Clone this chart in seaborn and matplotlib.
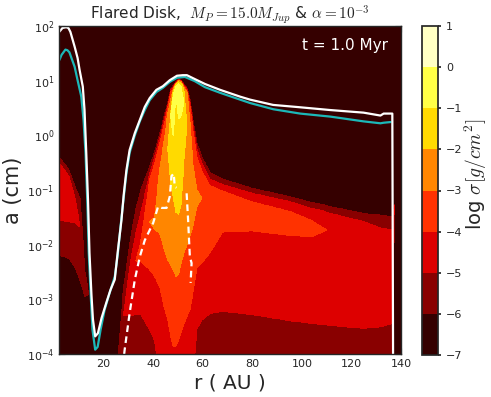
import numpy as np
import matplotlib
matplotlib.use("Agg")
import matplotlib.pyplot as plt
import seaborn as sns

# ---------------- data ----------------
# Contour field: one vertical profile per radius column (r in AU).
# Each profile: band at the top, then (log10 a boundary, band below it), top -> bottom.
# Band k covers log sigma in [k-7, k-6]  (0 = darkest, 7 = lightest).
# Two equal boundaries mark the point where a band closes.
col_r = [2, 6, 8.5, 10.5, 12.5, 14, 25, 26.5, 28, 31, 33, 35, 38.6, 40.6, 42.7,
         44.7, 45.9, 47.1, 48.1, 49.1, 50.2, 51.2, 52.4, 53.6, 54.8, 56.0, 57.6,
         59.7, 62.9, 68, 80, 95, 104, 108.8, 110, 125, 132, 136.5, 137.3, 140]
col_profiles = [
    [0, (-0.39, 1), (-0.50, 2), (-1.55, 1), (-2.19, 0)],
    [0, (-0.63, 1), (-0.75, 2), (-1.58, 1), (-2.25, 0)],
    [0, (-0.94, 1), (-1.15, 2), (-1.60, 1), (-2.42, 0)],
    [0, (-1.15, 1), (-1.68, 2), (-1.68, 1), (-2.65, 0)],
    [0, (-2.50, 1), (-2.95, 0)],
    [0, (-2.90, 1), (-2.90, 0)],
    [0, (-4.50, 1)],
    [0, (-3.70, 1)],
    [0, (-2.81, 1), (-3.30, 2), (-3.30, 1)],
    [0, (-1.85, 1), (-2.27, 2), (-3.30, 1)],
    [0, (-1.36, 1), (-1.80, 2), (-2.30, 3), (-2.30, 2), (-3.27, 1)],
    [0, (-1.00, 1), (-1.42, 2), (-1.95, 3), (-2.30, 2), (-3.27, 1)],
    [0, (-0.57, 1), (-0.69, 2), (-0.82, 3), (-1.58, 4), (-1.58, 3), (-2.46, 2), (-3.56, 1)],
    [0, (-0.30, 1), (-0.40, 2), (-0.52, 3), (-1.50, 4), (-1.72, 3), (-2.58, 2), (-3.76, 1)],
    [0, (0.04, 1), (-0.04, 2), (-0.14, 3), (-0.60, 4), (-1.80, 3), (-2.78, 2)],
    [0, (0.40, 1), (0.33, 2), (0.25, 3), (-0.02, 4), (-2.12, 3), (-3.19, 2)],
    [0, (0.60, 1), (0.55, 2), (0.50, 3), (0.40, 4), (-0.25, 5), (-0.25, 4), (-2.28, 3), (-3.37, 2)],
    [0, (0.86, 1), (0.83, 2), (0.79, 3), (0.65, 4), (0.41, 5), (0.35, 6), (0.35, 5), (-0.90, 4), (-2.37, 3), (-3.68, 2)],
    [0, (0.91, 1), (0.89, 2), (0.87, 3), (0.85, 4), (0.82, 5), (0.74, 6), (-0.03, 5), (-1.13, 4), (-2.46, 3), (-3.86, 2)],
    [0, (0.98, 1), (0.965, 2), (0.95, 3), (0.935, 4), (0.92, 5), (0.88, 6), (0.80, 5), (-1.40, 4), (-2.58, 3), (-3.86, 2)],
    [0, (1.03, 1), (1.02, 2), (1.01, 3), (1.00, 4), (0.98, 5), (0.95, 6), (0.30, 5), (-1.45, 4), (-2.55, 3), (-3.75, 2)],
    [0, (1.01, 1), (1.00, 2), (0.99, 3), (0.98, 4), (0.96, 5), (0.90, 6), (0.35, 5), (-1.30, 4), (-2.35, 3), (-3.62, 2)],
    [0, (0.94, 1), (0.92, 2), (0.90, 3), (0.88, 4), (0.85, 5), (0.60, 6), (0.60, 5), (-0.49, 4), (-2.15, 3), (-3.45, 2)],
    [0, (0.87, 1), (0.85, 2), (0.82, 3), (0.79, 4), (0.20, 5), (0.20, 4), (-2.00, 3), (-3.31, 2)],
    [0, (0.68, 1), (0.62, 2), (0.55, 3), (0.28, 4), (-1.84, 3), (-3.20, 2)],
    [0, (0.30, 1), (0.22, 2), (0.12, 3), (-0.52, 4), (-1.67, 3), (-2.90, 2)],
    [0, (-0.13, 1), (-0.25, 2), (-0.40, 3), (-1.00, 4), (-1.30, 3), (-2.42, 2), (-3.54, 1)],
    [0, (-0.40, 1), (-0.52, 2), (-0.66, 3), (-1.15, 4), (-1.15, 3), (-2.33, 2), (-3.38, 1)],
    [0, (-0.68, 1), (-0.80, 2), (-0.92, 3), (-2.15, 2), (-3.26, 1)],
    [0, (-0.80, 1), (-0.90, 2), (-1.02, 3), (-1.77, 2), (-3.22, 1)],
    [0, (-0.97, 1), (-1.06, 2), (-1.22, 3), (-1.75, 2), (-3.28, 1)],
    [0, (-1.12, 1), (-1.21, 2), (-1.39, 3), (-1.83, 2), (-3.39, 1)],
    [0, (-1.23, 1), (-1.34, 2), (-1.56, 3), (-1.85, 2), (-3.44, 1)],
    [0, (-1.27, 1), (-1.38, 2), (-1.70, 3), (-1.76, 2), (-3.46, 1)],
    [0, (-1.29, 1), (-1.41, 2), (-1.73, 3), (-1.73, 2), (-3.47, 1)],
    [0, (-1.43, 1), (-1.58, 2), (-3.53, 1)],
    [0, (-1.46, 1), (-1.70, 2), (-3.50, 1)],
    [0, (-1.49, 1), (-1.73, 2), (-3.44, 1)],
    [0],
    [0],
]

# white solid curve (r [AU], a [cm])
white_r = [2.2, 3.4, 4.9, 5.8, 6.6, 8.3, 9.5, 10.3, 11.6, 12.3, 13.0, 13.7, 14.3, 15.1,
           15.7, 16.6, 17.7, 19.2, 21.1, 22.8, 24.5, 25.7, 27.2, 28.1, 29.2, 30.5, 32.6,
           34.6, 36.6, 38.6, 41.3, 43.9, 46.7, 49.6, 52.0, 53.6, 56.8, 60.9, 67.0, 75.1,
           79.1, 88.4, 98.0, 111.5, 124.9, 131.7, 133.0, 136.5, 136.8]
white_a = [79, 92, 95, 92, 78, 42, 26, 15.8, 7.8, 2.9, 0.48, 0.066, 0.0071, 0.0012,
           4.3e-4, 2.1e-4, 2.4e-4, 4.6e-4, 8.7e-4, 1.5e-3, 2.3e-3, 7.4e-3, 0.028, 0.081,
           0.23, 0.54, 1.1, 1.9, 3.3, 4.8, 6.8, 7.9, 10.2, 12.3, 12.6, 12.6, 10.7, 8.7,
           6.8, 5.1, 4.5, 3.6, 3.3, 2.9, 2.6, 2.3, 2.5, 2.5, 1.0e-4]

# cyan solid curve
cyan_r = [2.2, 3.0, 4.6, 5.4, 6.2, 8.3, 9.5, 11.0, 11.9, 12.7, 13.4, 14.0, 14.9, 15.5,
          16.6, 17.6, 18.8, 20.4, 22.4, 24.5, 25.7, 26.9, 28.1, 29.2, 30.5, 32.6, 34.6,
          36.6, 38.6, 41.3, 43.9, 46.7, 49.6, 52.8, 56.8, 60.9, 67.0, 71.0, 79.1, 88.5,
          99.3, 111.5, 124.9, 131.7, 133.0, 135.8]
cyan_a = [24, 29.5, 37, 36, 33, 18, 10.2, 5.1, 1.9, 0.48, 0.066, 0.0071, 9.8e-4, 2.8e-4,
          1.2e-4, 1.35e-4, 2.8e-4, 6.4e-4, 1.3e-3, 2.6e-3, 6.5e-3, 0.023, 0.072, 0.20,
          0.48, 1.0, 1.8, 2.9, 4.4, 6.2, 7.4, 9.5, 11.3, 11.7, 9.8, 7.6, 6.0, 5.2, 3.9,
          3.0, 2.5, 2.2, 1.8, 1.66, 1.7, 1.75]

# white dashed curve (two branches)
dash1_r = [28.3, 28.5, 30.5, 32.6, 34.6, 36.6, 40.0, 42.0, 43.4, 45.4, 46.7, 47.4, 48.3, 48.7, 49.4]
dash1_a = [1.0e-4, 1.2e-4, 5.6e-4, 2.3e-3, 6.0e-3, 0.012, 0.025, 0.050, 0.047, 0.047,
           0.076, 0.18, 0.20, 0.115, 0.11]
dash2_r = [53.5, 54.1, 54.8, 55.5, 55.1]
dash2_a = [0.087, 0.028, 6.0e-3, 4.6e-3, 2.0e-3]

levels = [-7, -6, -5, -4, -3, -2, -1, 0, 1]
x_ticks = [20, 40, 60, 80, 100, 120, 140]
title = r"Flared Disk,  $M_P=15.0M_{Jup}$ & $\alpha=10^{-3}$"

# ---------------- build the gridded field from the column profiles ----------------
# every profile is mapped onto one common band sequence (empty bands have zero
# thickness) so that band boundaries can be carried smoothly from column to column
master = [0, 1, 2, 3, 4, 5, 6, 5, 4, 3, 2, 1, 0]
Y_BOT = -4.5


def master_bounds(spec):
    bands = [spec[0]] + [b for _, b in spec[1:]]
    pos = [p for p, _ in spec[1:]]
    p = max(bands)
    pi = bands.index(p)
    Y = np.zeros(12)
    for k in range(1, pi + 1):
        Y[k - 1] = pos[k - 1]
    top = pos[pi - 1] if pi > 0 else 2.0
    bot = pos[pi] if pi < len(pos) else Y_BOT
    mid = 0.5 * (top + bot)
    for j in range(p + 1, 12 - p + 1):
        Y[j - 1] = mid
    for i in range(pi + 1, len(bands)):
        Y[12 - bands[i] - 1] = pos[i - 1]
    for j in range(12 - bands[-1] + 1, 13):
        Y[j - 1] = Y_BOT
    return Y


B = np.array([master_bounds(s) for s in col_profiles])          # (ncol, 12)
r_fine = np.linspace(2, 140, 1105)
loga_fine = np.linspace(-4.0, 2.0, 1101)
B_fine = np.column_stack([np.interp(r_fine, col_r, B[:, j]) for j in range(12)])  # (nr, 12)
idx = (B_fine[None, :, :] > loga_fine[:, None, None]).sum(axis=2)                 # (ny, nr)
Z = np.array(master)[idx] - 6.5

# ---------------- plot ----------------
sns.set_theme(style="ticks")
plt.rcParams["font.family"] = ["DejaVu Sans"]
plt.rcParams["mathtext.fontset"] = "cm"

fig = plt.figure(figsize=(4.91, 3.97), dpi=100)
ax = fig.add_axes([59 / 491, 1 - 354 / 397, 342 / 491, 328 / 397])
cax = fig.add_axes([421.7 / 491, 1 - 355 / 397, 16.6 / 491, 329 / 397])

ax.set_yscale("log")
cs = ax.contourf(r_fine, 10 ** loga_fine, Z, levels=levels, cmap="hot")

sns.lineplot(x=cyan_r, y=cyan_a, color="#1cb8b8", lw=1.6, sort=False, estimator=None, ax=ax)
sns.lineplot(x=white_r, y=white_a, color="white", lw=1.6, sort=False, estimator=None, ax=ax)
for xr, ya in [(dash1_r, dash1_a), (dash2_r, dash2_a)]:
    sns.lineplot(x=xr, y=ya, color="white", lw=1.6, sort=False, estimator=None,
                 linestyle=(0, (3, 2)), ax=ax)

ax.set_xlim(2, 140)
ax.set_ylim(1e-4, 1e2)
ax.set_xticks(x_ticks)
ax.tick_params(which="both", direction="in", top=True, right=True, labelsize=8)
ax.tick_params(which="major", length=4, width=0.8)
ax.tick_params(which="minor", length=2, width=0.5)
ax.set_xlabel("r ( AU )", fontsize=14.5, labelpad=3)
ax.set_ylabel("a (cm)", fontsize=15, labelpad=3)
ax.set_title(title, fontsize=11, pad=4)
ax.text(0.962, 0.942, "t = 1.0 Myr", color="white", fontsize=11,
        transform=ax.transAxes, ha="right", va="center")
for sp in ax.spines.values():
    sp.set_linewidth(1.0)

cb = fig.colorbar(cs, cax=cax)
cb.set_ticks(levels)
cb.ax.tick_params(labelsize=8, length=2)
cb.set_label(r"log $\sigma [g/cm^2]$", fontsize=14)
cb.ax.yaxis.set_label_coords(2.5, 0.55)

fig.savefig("out.png", dpi=100)
